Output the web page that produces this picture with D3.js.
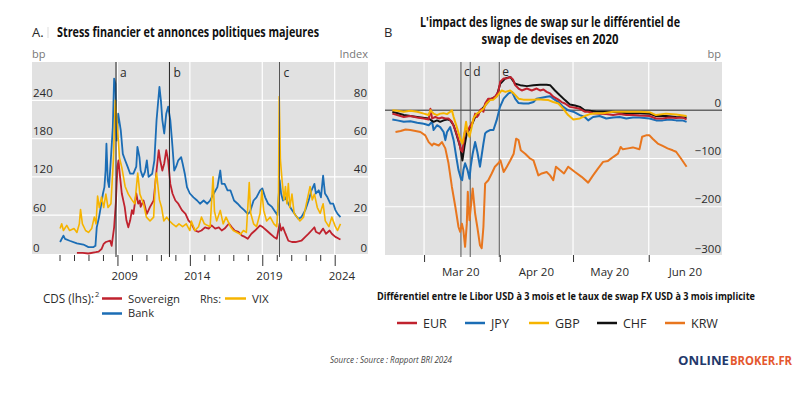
<!DOCTYPE html>
<html><head><meta charset="utf-8">
<script src="https://cdn.jsdelivr.net/npm/d3@7"></script>
<style>
body{margin:0;background:#fff}
svg{display:block}
text{font-family:"Open Sans","Noto Sans",sans-serif;fill:#2a2a2a}
</style>
</head><body>
<svg id="chart" width="800" height="400"></svg>
<script>
// ---------------- DATA : panel A (decimal year, value) ----------------
const yearTicks = d3.range(2005, 2025);
const yearLabels = [2009, 2014, 2019, 2024];
const leftTicksA = [0, 60, 120, 180, 240];
const rightTicksA = [0, 20, 40, 60, 80];
const eventsA = [{label:"a", t:2008.9}, {label:"b", t:2012.59}, {label:"c", t:2020.19}];

const bankCDS = [[2005.04,18],[2005.27,28],[2005.38,23],[2005.7,20],[2006.2,16],[2006.65,14],[2007.0,10],[2007.35,10],[2007.48,12],[2007.57,41],[2007.73,57],[2007.85,73],[2008.0,94],[2008.1,104],[2008.18,130],[2008.24,172],[2008.33,115],[2008.42,104],[2008.54,146],[2008.68,198],[2008.77,274],[2008.86,266],[2008.95,177],[2009.05,219],[2009.12,209],[2009.23,193],[2009.37,156],[2009.53,146],[2009.7,136],[2009.88,125],[2010.1,125],[2010.3,136],[2010.38,167],[2010.52,151],[2010.6,130],[2010.75,120],[2010.9,128],[2011.03,146],[2011.15,120],[2011.4,125],[2011.55,146],[2011.7,209],[2011.8,235],[2011.9,261],[2012.0,240],[2012.1,209],[2012.23,188],[2012.37,219],[2012.5,230],[2012.65,209],[2012.8,167],[2012.92,130],[2013.05,136],[2013.2,146],[2013.4,151],[2013.5,141],[2013.65,125],[2013.8,104],[2014.0,94],[2014.25,88],[2014.5,83],[2014.7,78],[2014.95,83],[2015.2,78],[2015.4,83],[2015.65,94],[2015.9,104],[2016.1,130],[2016.2,109],[2016.4,109],[2016.6,99],[2016.8,99],[2017.05,83],[2017.3,78],[2017.5,73],[2017.75,68],[2018.0,62],[2018.15,65],[2018.4,83],[2018.6,88],[2018.85,99],[2019.0,102],[2019.2,88],[2019.4,78],[2019.67,73],[2019.9,65],[2020.05,60],[2020.2,115],[2020.3,94],[2020.43,83],[2020.6,88],[2020.8,78],[2021.05,68],[2021.3,60],[2021.5,54],[2021.7,57],[2021.97,68],[2022.2,83],[2022.4,99],[2022.6,109],[2022.7,94],[2022.9,99],[2023.05,88],[2023.2,122],[2023.33,94],[2023.5,88],[2023.7,78],[2023.9,78],[2024.05,68],[2024.2,62],[2024.4,57]];

const sovereignCDS = [[2006.2,1],[2006.6,1],[2007.0,0],[2007.5,2],[2007.7,3],[2007.9,7],[2008.05,15],[2008.2,18],[2008.5,20],[2008.6,12],[2008.77,41],[2008.9,83],[2009.0,136],[2009.07,146],[2009.18,120],[2009.3,94],[2009.5,73],[2009.62,52],[2009.75,41],[2009.88,52],[2010.0,68],[2010.1,62],[2010.3,94],[2010.43,78],[2010.55,83],[2010.6,73],[2010.8,83],[2011.03,62],[2011.25,73],[2011.5,83],[2011.7,130],[2011.85,162],[2011.95,146],[2012.1,130],[2012.23,141],[2012.37,162],[2012.5,146],[2012.65,109],[2012.8,94],[2013.0,83],[2013.2,78],[2013.45,68],[2013.7,62],[2013.9,52],[2014.1,47],[2014.35,36],[2014.6,34],[2014.8,36],[2015.05,41],[2015.3,39],[2015.5,44],[2015.75,39],[2016.0,41],[2016.2,36],[2016.4,39],[2016.7,47],[2016.9,41],[2017.1,36],[2017.35,34],[2017.6,28],[2017.8,26],[2018.0,23],[2018.25,31],[2018.5,36],[2018.85,44],[2019.05,41],[2019.3,36],[2019.55,31],[2019.8,26],[2020.0,23],[2020.2,47],[2020.3,36],[2020.43,41],[2020.6,31],[2020.8,20],[2021.05,18],[2021.3,18],[2021.5,19],[2021.7,20],[2021.97,26],[2022.2,31],[2022.4,36],[2022.6,41],[2022.7,34],[2022.95,31],[2023.2,39],[2023.4,31],[2023.65,36],[2023.8,31],[2024.05,26],[2024.3,23],[2024.4,22]];

const vix = [[2005.04,13],[2005.15,15.5],[2005.27,12],[2005.5,14.7],[2005.7,12],[2006.0,13],[2006.2,11],[2006.37,15.5],[2006.45,23],[2006.58,15.5],[2006.8,12],[2007.0,11],[2007.22,13],[2007.4,19],[2007.52,15.5],[2007.63,30],[2007.75,24],[2007.9,29.5],[2008.05,24],[2008.2,31],[2008.35,24],[2008.55,26],[2008.72,49],[2008.85,80],[2009.0,66],[2009.14,50],[2009.3,45],[2009.53,35],[2009.75,31],[2010.0,28],[2010.2,26],[2010.4,42],[2010.55,31],[2010.8,26],[2011.0,19],[2011.25,17],[2011.5,19],[2011.62,38],[2011.7,42],[2011.8,35],[2011.9,28],[2012.05,24],[2012.2,17],[2012.4,19],[2012.6,17],[2012.8,15.5],[2013.05,14],[2013.25,15.5],[2013.5,14],[2013.75,15.5],[2014.0,12],[2014.1,17],[2014.35,12],[2014.6,14],[2014.8,19],[2015.0,15.5],[2015.2,14.7],[2015.4,14],[2015.6,40],[2015.7,22],[2015.85,17],[2016.1,22.5],[2016.3,15.5],[2016.5,19],[2016.8,14],[2017.0,12],[2017.25,11],[2017.5,10],[2017.7,12],[2017.9,11],[2018.1,37],[2018.2,21],[2018.4,15.5],[2018.6,14],[2018.85,21],[2018.97,33],[2019.1,22.5],[2019.3,17],[2019.55,19],[2019.8,15.5],[2020.0,14],[2020.12,30],[2020.17,82],[2020.25,49],[2020.37,38],[2020.5,28],[2020.6,35],[2020.7,26],[2020.8,36.5],[2020.9,24],[2021.05,31],[2021.2,21],[2021.4,19],[2021.6,17],[2021.85,19],[2022.1,28],[2022.3,35],[2022.45,28],[2022.6,31],[2022.8,24],[2023.0,21],[2023.2,26],[2023.35,17],[2023.6,14],[2023.8,19],[2024.05,14],[2024.2,12],[2024.4,15.5]];

// ---------------- DATA : panel B (days since 1 Mar 2020, bp) ----------------
const monthStartsB = [0, 31, 61, 92];           // Mar 1, Apr 1, May 1, Jun 1
const monthLabelsB = ["Mar 20", "Apr 20", "May 20", "Jun 20"];
const ticksB = [0, -100, -200, -300];
const eventsB = [{label:"c", d:15.1}, {label:"d", d:18.9}, {label:"e", d:30.8}];

const eur = [[-13.0,-7],[-11.0,-10],[-8.3,-14],[-5.6,-12],[-2.8,-15],[-0.1,-17],[1.9,-19],[2.6,3],[3.3,-17],[4.6,-14],[6.0,-17],[7.3,-15],[8.7,-17],[10.0,-17],[11.4,-24],[12.8,-41],[14.1,-62],[15.1,-83],[15.7,-86],[16.1,-69],[16.8,-41],[17.8,-45],[18.6,-35],[19.1,-31],[20.2,-21],[20.9,-7],[21.6,-14],[22.3,-10],[22.9,0],[23.6,3],[24.3,-3],[25.0,14],[26.3,24],[27.7,24],[29.0,28],[30.4,38],[31.2,59],[32.6,66],[33.9,66],[35.3,69],[36.4,64],[37.3,52],[38.7,45],[40.0,41],[42.1,45],[44.1,41],[46.1,45],[47.5,41],[48.9,43],[50.2,38],[51.6,35],[52.9,28],[55.0,22],[56.3,17],[57.7,14],[59.7,7],[61.8,5],[63.8,3],[65.8,-3],[67.2,-3],[69.2,-6],[71.9,-7],[74.6,-8],[77.4,-10],[80.1,-8],[82.8,-10],[85.5,-10],[88.2,-11],[92.3,-12],[95.0,-17],[97.7,-17],[100.4,-15],[103.2,-16],[105.8,-15],[107.5,-19]];

const jpy = [[-13.0,-19],[-11.0,-21],[-8.3,-24],[-5.6,-23],[-2.8,-26],[-0.1,-28],[1.9,-31],[3.3,-24],[3.9,-41],[5.3,-31],[6.6,-35],[8.0,-45],[8.7,-62],[9.4,-45],[10.7,-35],[12.1,-62],[13.2,-97],[14.1,-124],[15.1,-142],[15.6,-145],[16.1,-124],[16.8,-110],[17.8,-124],[18.6,-142],[19.1,-117],[19.9,-90],[20.9,-66],[21.8,-86],[22.9,-117],[23.6,-93],[24.3,-69],[25.0,-48],[25.6,-45],[27.0,-41],[28.4,-41],[29.7,-21],[31.1,7],[32.6,24],[34.6,35],[36.0,38],[37.3,24],[38.7,15],[40.7,14],[42.8,14],[44.8,17],[46.1,24],[48.2,26],[50.2,28],[51.6,29],[52.9,24],[55.0,17],[57.0,7],[59.0,0],[61.1,-3],[63.8,-10],[65.8,-14],[67.2,-21],[69.2,-14],[71.9,-12],[74.6,-17],[77.4,-15],[80.1,-14],[82.8,-17],[85.5,-15],[88.2,-15],[92.3,-17],[95.0,-21],[97.7,-21],[100.4,-19],[103.2,-21],[105.8,-21],[107.5,-24]];

const gbp = [[-13.0,0],[-11.0,-1],[-8.3,-3],[-5.6,-1],[-2.8,-3],[-0.1,-7],[1.9,-10],[2.6,0],[3.9,-7],[5.3,-10],[6.6,-7],[8.0,-6],[9.4,-8],[10.7,-3],[11.4,0],[12.1,-14],[13.4,-35],[14.8,-59],[15.7,-69],[16.6,-45],[17.2,-24],[17.8,-45],[18.6,-55],[19.5,-35],[20.2,-17],[21.6,-7],[22.9,-3],[24.3,3],[25.6,14],[27.0,21],[28.4,22],[29.7,28],[31.8,41],[33.3,38],[35.3,41],[36.7,35],[38.7,24],[40.7,22],[42.8,22],[44.8,22],[46.8,23],[48.9,22],[50.9,21],[52.9,17],[55.0,14],[57.0,3],[59.0,-10],[61.1,-19],[63.8,-17],[65.8,-12],[67.9,-8],[70.6,-6],[73.3,-6],[77.4,-3],[82.8,-3],[88.2,-3],[92.3,-4],[95.0,-10],[99.1,-7],[103.2,-9],[107.5,-12]];

const chf = [[-13.0,-3],[-8.3,-10],[-2.8,-14],[1.9,-17],[3.9,-24],[5.3,-21],[6.6,-24],[8.0,-21],[9.4,-19],[10.7,-21],[12.1,-31],[13.4,-52],[14.8,-76],[15.7,-104],[16.6,-73],[17.5,-48],[18.6,-38],[19.5,-31],[20.9,-14],[22.9,-3],[25.0,10],[27.0,22],[29.7,29],[31.2,55],[33.3,66],[35.3,69],[37.3,55],[39.4,52],[42.1,50],[44.8,52],[47.5,53],[50.2,53],[51.6,52],[53.6,41],[55.6,31],[57.7,21],[59.7,12],[61.8,10],[63.8,7],[65.8,0],[67.9,-1],[70.6,-3],[73.3,-3],[77.4,-3],[82.8,-6],[88.2,-6],[92.3,-7],[95.0,-12],[99.1,-12],[103.2,-14],[107.5,-15]];

const krw = [[-11.7,-45],[-9.6,-43],[-7.6,-40],[-5.6,-41],[-3.5,-43],[-1.5,-45],[0.5,-52],[1.9,-66],[3.3,-73],[3.9,-69],[6.0,-73],[7.3,-66],[8.7,-79],[10.0,-110],[11.4,-159],[12.8,-200],[14.1,-242],[14.8,-252],[15.5,-235],[16.1,-249],[16.8,-283],[17.5,-235],[17.9,-169],[18.6,-228],[19.3,-193],[19.9,-162],[20.9,-214],[21.8,-242],[22.9,-280],[23.6,-286],[24.3,-242],[25.0,-152],[26.3,-145],[27.7,-131],[29.0,-117],[30.4,-110],[31.3,-104],[32.6,-128],[33.9,-117],[35.3,-104],[36.7,-90],[37.7,-59],[38.7,-62],[39.6,-83],[41.4,-90],[43.4,-100],[44.8,-104],[46.8,-135],[48.2,-131],[50.2,-128],[51.6,-135],[52.9,-145],[54.0,-117],[55.6,-124],[57.3,-131],[59.0,-117],[61.8,-128],[64.5,-138],[67.2,-150],[69.2,-135],[71.2,-121],[73.3,-107],[75.3,-105],[77.4,-97],[79.4,-90],[80.5,-76],[81.4,-81],[83.5,-79],[85.5,-77],[88.2,-81],[89.3,-55],[90.9,-52],[92.3,-52],[93.6,-59],[95.7,-69],[97.7,-74],[99.7,-79],[101.8,-83],[103.2,-86],[105.2,-100],[107.5,-117]];

// ---------------- STYLE ----------------
const C = {red:"#c0222e", blue:"#1b6db5", yellow:"#f6b400", black:"#111111", orange:"#e8761e",
           bg:"#e1e1e1", grid:"#ffffff", text:"#2a2a2a", muted:"#777777"};

const svg = d3.select("#chart");

// ================= PANEL A =================
const A = {x0:32, x1:368, y0:62, y1:254};
const xA = d3.scaleLinear().domain([2003.1, 2026.3]).range([A.x0, A.x1]);
const yL = d3.scaleLinear().domain([0, 300]).range([253.5, A.y0]);
const yR = d3.scaleLinear().domain([0, 100]).range([253.5, A.y0]);

const gA = svg.append("g");
gA.append("rect").attr("x", A.x0).attr("y", A.y0).attr("width", A.x1 - A.x0).attr("height", A.y1 - A.y0).attr("fill", C.bg);
gA.selectAll(".hg").data(leftTicksA.filter(d => d > 0)).enter().append("line")
  .attr("x1", A.x0).attr("x2", A.x1).attr("y1", d => yL(d)).attr("y2", d => yL(d))
  .attr("stroke", C.grid).attr("stroke-width", 1.2);
gA.selectAll(".vg").data(yearLabels).enter().append("line")
  .attr("x1", d => xA(d)).attr("x2", d => xA(d)).attr("y1", A.y0).attr("y2", A.y1)
  .attr("stroke", C.grid).attr("stroke-width", 1.2);
gA.selectAll(".ll").data(leftTicksA).enter().append("text")
  .attr("x", A.x0 + 1).attr("y", d => yL(d) - (d === 0 ? 2 : 3.5)).attr("font-size", 11.5).text(d => d);
gA.selectAll(".rl").data(rightTicksA).enter().append("text")
  .attr("x", A.x1 - 1).attr("y", d => yR(d) - (d === 0 ? 2 : 3.5)).attr("font-size", 11.5).attr("text-anchor", "end").text(d => d);

const lineA = s => d3.line().x(d => xA(d[0])).y(d => s(d[1]));
gA.append("path").datum(bankCDS).attr("d", lineA(yL)).attr("fill", "none").attr("stroke", C.blue).attr("stroke-width", 1.8).attr("stroke-linejoin", "round");
gA.append("path").datum(sovereignCDS).attr("d", lineA(yL)).attr("fill", "none").attr("stroke", C.red).attr("stroke-width", 1.8).attr("stroke-linejoin", "round");
gA.append("path").datum(vix).attr("d", lineA(yR)).attr("fill", "none").attr("stroke", C.yellow).attr("stroke-width", 1.6).attr("stroke-linejoin", "round");

eventsA.forEach((e, i) => {
  gA.append("line").attr("x1", xA(e.t)).attr("x2", xA(e.t)).attr("y1", A.y0).attr("y2", A.y1 + 3)
    .attr("stroke", i === 2 ? "#555" : "#222").attr("stroke-width", 1);
  gA.append("text").attr("x", xA(e.t) + 4).attr("y", 77).attr("font-size", 12).text(e.label);
});

const axA = d3.axisBottom(xA).tickValues(yearTicks).tickSize(6).tickFormat("");
const axAg = gA.append("g").attr("transform", `translate(0,${A.y1 + 1})`).call(axA);
axAg.select(".domain").remove();
axAg.selectAll(".tick line").attr("stroke", "#333").attr("y2", d => yearLabels.includes(d) ? 11 : 6);
gA.selectAll(".xl").data(yearLabels).enter().append("text")
  .attr("x", d => xA(d + 0.5)).attr("y", 280).attr("text-anchor", "middle").attr("font-size", 11.5).text(d => d);

gA.append("text").attr("x", A.x0).attr("y", 58).attr("font-size", 11).style("fill", C.muted).text("bp");
gA.append("text").attr("x", A.x1).attr("y", 58).attr("font-size", 11).attr("text-anchor", "end").style("fill", C.muted).text("Index");

gA.append("text").attr("x", 32).attr("y", 37).attr("font-size", 13).text("A.");
gA.append("line").attr("x1", 48).attr("x2", 48).attr("y1", 27).attr("y2", 38).attr("stroke", "#ddd");
gA.append("text").attr("x", 57).attr("y", 37).attr("font-size", 13.5).attr("font-weight", "bold")
  .attr("textLength", 262).attr("lengthAdjust", "spacingAndGlyphs").style("fill", "#111")
  .text("Stress financier et annonces politiques majeures");

// legend A
const lgA = gA.append("g");
lgA.append("text").attr("x", 43).attr("y", 303).attr("font-size", 12)
  .attr("textLength", 51).attr("lengthAdjust", "spacingAndGlyphs").text("CDS (lhs):");
lgA.append("text").attr("x", 95).attr("y", 297).attr("font-size", 7.5).text("2");
[["Sovereign", C.red, 298.5, 303, 52], ["Bank", C.blue, 313.5, 317, 26]].forEach(([t, c, ly, ty, w]) => {
  lgA.append("line").attr("x1", 102).attr("x2", 122).attr("y1", ly).attr("y2", ly).attr("stroke", c).attr("stroke-width", 2.5);
  lgA.append("text").attr("x", 128).attr("y", ty).attr("font-size", 11.5)
    .attr("textLength", w).attr("lengthAdjust", "spacingAndGlyphs").text(t);
});
lgA.append("text").attr("x", 200).attr("y", 303).attr("font-size", 11.5)
  .attr("textLength", 21).attr("lengthAdjust", "spacingAndGlyphs").text("Rhs:");
lgA.append("line").attr("x1", 225).attr("x2", 246).attr("y1", 298.5).attr("y2", 298.5).attr("stroke", C.yellow).attr("stroke-width", 2.5);
lgA.append("text").attr("x", 252).attr("y", 303).attr("font-size", 11.5).text("VIX");

// ================= PANEL B =================
const B = {x0:385, x1:722, y0:62, y1:255};
const base = new Date(2020, 2, 1);
const dayToDate = d => new Date(base.getTime() + d * 864e5);
const xB = d3.scaleTime().domain([new Date(2020, 1, 14), new Date(2020, 6, 1)]).range([B.x0, B.x1]);
const yB = d3.scaleLinear().domain([-300, 100]).range([B.y1, B.y0]);

const gB = svg.append("g");
gB.append("rect").attr("x", B.x0).attr("y", B.y0).attr("width", B.x1 - B.x0).attr("height", B.y1 - B.y0).attr("fill", C.bg);
gB.selectAll(".hg").data([-100, -200]).enter().append("line")
  .attr("x1", B.x0).attr("x2", B.x1).attr("y1", d => yB(d)).attr("y2", d => yB(d))
  .attr("stroke", C.grid).attr("stroke-width", 1.2);
gB.selectAll(".vg").data(monthStartsB).enter().append("line")
  .attr("x1", d => xB(dayToDate(d))).attr("x2", d => xB(dayToDate(d))).attr("y1", B.y0).attr("y2", B.y1)
  .attr("stroke", C.grid).attr("stroke-width", 1.2);
gB.append("line").attr("x1", B.x0).attr("x2", B.x1).attr("y1", yB(0)).attr("y2", yB(0)).attr("stroke", "#666").attr("stroke-width", 1.6);

gB.selectAll(".yl").data(ticksB).enter().append("text")
  .attr("x", B.x1 - 1).attr("y", d => yB(d) - (d === -300 ? 2.5 : 3.5)).attr("text-anchor", "end").attr("font-size", 11.5)
  .text(d => d === 0 ? "0" : "\u2212" + Math.abs(d));

eventsB.forEach(e => {
  const x = xB(dayToDate(e.d));
  gB.append("line").attr("x1", x).attr("x2", x).attr("y1", B.y0).attr("y2", B.y1 + 2).attr("stroke", "#555").attr("stroke-width", 1);
  gB.append("text").attr("x", x + 3).attr("y", 76).attr("font-size", 12).text(e.label);
});

const lineB = d3.line().x(d => xB(dayToDate(d[0]))).y(d => yB(d[1]));
[[krw, C.orange], [jpy, C.blue], [chf, C.black], [eur, C.red], [gbp, C.yellow]].forEach(([s, c]) => {
  gB.append("path").datum(s).attr("d", lineB).attr("fill", "none").attr("stroke", c).attr("stroke-width", 2).attr("stroke-linejoin", "round");
});

const axB = d3.axisBottom(xB).tickValues(monthStartsB.map(dayToDate)).tickSize(7).tickFormat("");
const axBg = gB.append("g").attr("transform", `translate(0,${B.y1})`).call(axB);
axBg.select(".domain").remove();
axBg.selectAll(".tick line").attr("stroke", "#333");
gB.selectAll(".xl").data(monthStartsB).enter().append("text")
  .attr("x", d => xB(dayToDate(d + 15))).attr("y", 276).attr("text-anchor", "middle").attr("font-size", 11.5)
  .text((d, i) => monthLabelsB[i]);

gB.append("text").attr("x", B.x1 - 1).attr("y", 58).attr("font-size", 11).attr("text-anchor", "end").style("fill", C.muted).text("bp");

gB.append("text").attr("x", 384).attr("y", 37).attr("font-size", 13).text("B");
gB.append("text").attr("x", 550).attr("y", 27).attr("text-anchor", "middle").attr("font-size", 13.5).attr("font-weight", "bold")
  .attr("textLength", 260).attr("lengthAdjust", "spacingAndGlyphs").style("fill", "#111")
  .text("L'impact des lignes de swap sur le différentiel de");
gB.append("text").attr("x", 550).attr("y", 44).attr("text-anchor", "middle").attr("font-size", 13.5).attr("font-weight", "bold")
  .attr("textLength", 137).attr("lengthAdjust", "spacingAndGlyphs").style("fill", "#111")
  .text("swap de devises en 2020");
gB.append("text").attr("x", 377).attr("y", 300).attr("font-size", 10).attr("font-weight", "bold")
  .attr("textLength", 378).attr("lengthAdjust", "spacingAndGlyphs").style("fill", "#111")
  .text("Différentiel entre le Libor USD à 3 mois et le taux de swap FX USD à 3 mois implicite");

const legB = [["EUR", C.red, 397], ["JPY", C.blue, 465], ["GBP", C.yellow, 529], ["CHF", C.black, 597], ["KRW", C.orange, 665]];
legB.forEach(([t, c, x]) => {
  gB.append("line").attr("x1", x).attr("x2", x + 20).attr("y1", 323).attr("y2", 323).attr("stroke", c).attr("stroke-width", 2.5);
  gB.append("text").attr("x", x + 26).attr("y", 328).attr("font-size", 12.5).text(t);
});

// footer
svg.append("text").attr("x", 330).attr("y", 363).attr("font-size", 8.5).attr("font-style", "italic")
  .attr("textLength", 122).attr("lengthAdjust", "spacingAndGlyphs").style("fill", "#444")
  .text("Source : Source : Rapport BRI 2024");
svg.append("text").attr("x", 678).attr("y", 365).attr("font-size", 12).attr("font-weight", "bold")
  .attr("textLength", 51).attr("lengthAdjust", "spacingAndGlyphs").style("fill", "#23386b").text("ONLINE");
svg.append("text").attr("x", 730).attr("y", 365).attr("font-size", 12).attr("font-weight", "bold")
  .attr("textLength", 62).attr("lengthAdjust", "spacingAndGlyphs").style("fill", "#e4572e").text("BROKER.FR");
</script>
</body></html>
